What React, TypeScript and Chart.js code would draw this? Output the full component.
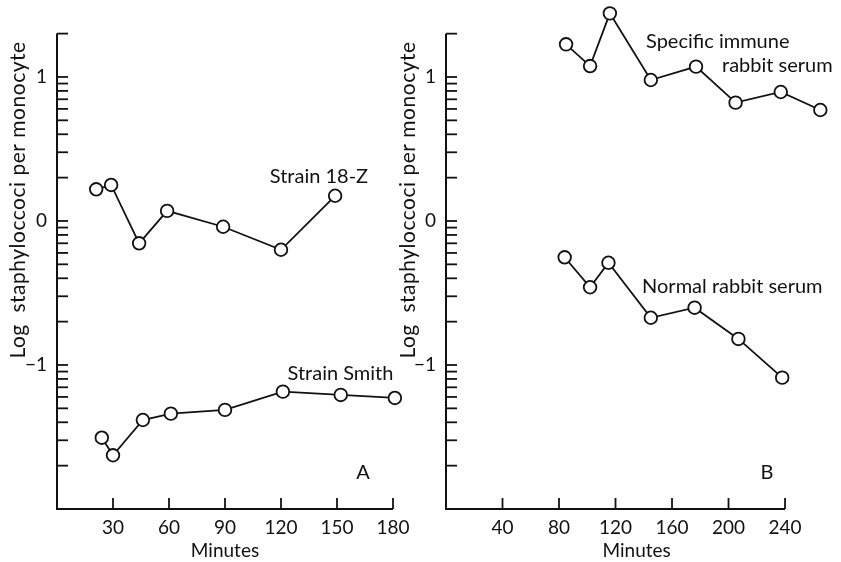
import React, { useEffect, useRef } from "react";
import { Chart, registerables } from "chart.js";

Chart.register(...registerables);

// ---- data ----
const strain18ZMinutes = [21, 29, 44, 59, 89, 120, 149];
const strain18ZLog = [0.22, 0.25, -0.155, 0.07, -0.04, -0.2, 0.175];

const strainSmithMinutes = [24, 30, 46, 61, 90, 121, 152, 181];
const strainSmithLog = [-1.505, -1.627, -1.382, -1.338, -1.312, -1.185, -1.208, -1.229];

const immuneMinutes = [85, 102, 116, 145, 177, 205, 237, 265];
const immuneLog = [1.227, 1.076, 1.442, 0.979, 1.072, 0.822, 0.896, 0.771];

const normalMinutes = [84, 102, 115, 145, 176, 207, 238];
const normalLog = [-0.252, -0.46, -0.29, -0.672, -0.602, -0.819, -1.088];

const panelAXTicks = [30, 60, 90, 120, 150, 180];
const panelBXTicks = [40, 80, 120, 160, 200, 240];
const yMajorTicks = [-1, 0, 1];
const yMajorLabels = ["\u22121", "0", "1"];

const Y_MIN = -2;
const Y_MAX = Math.log10(20);

const FONT = "Lato, 'Open Sans', sans-serif";
const INK = "#111111";

function logDecadeTicks(): number[] {
  const out: number[] = [];
  for (let d = -2; d <= 1; d++) {
    for (let k = 1; k <= 9; k++) {
      const v = d + Math.log10(k);
      if (v > Y_MIN + 1e-6 && v <= Y_MAX + 1e-6) out.push(v);
    }
  }
  return out;
}

type Note = { text: string; x: number; y: number; align: CanvasTextAlign };

type Panel = {
  canvasLeft: number;
  width: number;
  yAxisWidth: number;
  padTop: number;
  padRight: number;
  xMax: number;
  yMax: number;
  xTicks: number[];
  titleX: number;
  series: { x: number[]; y: number[] }[];
  notes: Note[];
};

const decorPlugin = {
  id: "panelDecor",
  beforeDatasetsDraw(chart: any) {
    const { ctx, chartArea } = chart;
    const xs = chart.scales.x;
    const ys = chart.scales.y;
    const bottom = chartArea.bottom;
    const left = chartArea.left;
    const top = ys.getPixelForValue(Y_MAX);
    const lastTick = xs.ticks[xs.ticks.length - 1].value;
    const right = xs.getPixelForValue(lastTick);
    ctx.save();
    ctx.strokeStyle = INK;
    ctx.lineWidth = 2;
    ctx.lineCap = "butt";
    ctx.beginPath();
    ctx.moveTo(left, top);
    ctx.lineTo(left, bottom);
    ctx.lineTo(right, bottom);
    ctx.stroke();
    ctx.lineWidth = 1.8;
    for (const t of ys.ticks) {
      const py = ys.getPixelForValue(t.value);
      ctx.beginPath();
      ctx.moveTo(left, py);
      ctx.lineTo(left + 11, py);
      ctx.stroke();
    }
    for (const t of xs.ticks) {
      const px = xs.getPixelForValue(t.value);
      ctx.beginPath();
      ctx.moveTo(px, bottom);
      ctx.lineTo(px, bottom - 11);
      ctx.stroke();
    }
    ctx.restore();
  },
  afterDraw(chart: any, _args: any, opts: any) {
    const { ctx } = chart;
    const xs = chart.scales.x;
    const ys = chart.scales.y;
    ctx.save();
    ctx.fillStyle = INK;
    ctx.font = `20px ${FONT}`;
    ctx.textBaseline = "middle";
    for (const n of opts.notes as Note[]) {
      ctx.textAlign = n.align;
      ctx.fillText(n.text, xs.getPixelForValue(n.x), ys.getPixelForValue(n.y));
    }
    // rotated axis title
    ctx.translate(opts.titleX, 200);
    ctx.rotate(-Math.PI / 2);
    ctx.textAlign = "center";
    ctx.font = `21px ${FONT}`;
    try {
      (ctx as any).letterSpacing = "0.5px";
    } catch (e) {}
    ctx.fillText("Log  staphyloccoci per monocyte", 0, 0);
    ctx.restore();
  },
};

function buildConfig(p: Panel): any {
  const yTicks = logDecadeTicks();
  return {
    type: "line",
    data: {
      datasets: p.series.map((s) => ({
        data: s.x.map((x, i) => ({ x, y: s.y[i] })),
        borderColor: INK,
        borderWidth: 1.8,
        pointRadius: 6.3,
        pointBackgroundColor: "#ffffff",
        pointBorderColor: INK,
        pointBorderWidth: 1.8,
        tension: 0,
        fill: false,
        clip: false,
      })),
    },
    options: {
      animation: false,
      responsive: false,
      maintainAspectRatio: false,
      layout: { padding: { top: p.padTop, right: p.padRight, bottom: 0, left: 0 } },
      plugins: {
        legend: { display: false },
        tooltip: { enabled: false },
        panelDecor: { notes: p.notes, titleX: p.titleX },
      },
      scales: {
        x: {
          type: "linear",
          min: 0,
          max: p.xMax,
          grid: { display: false, drawTicks: false },
          border: { display: false },
          afterBuildTicks: (s: any) => {
            s.ticks = p.xTicks.map((v) => ({ value: v }));
          },
          afterFit: (s: any) => {
            s.height = 53;
          },
          ticks: {
            autoSkip: false,
            maxRotation: 0,
            padding: 7,
            color: INK,
            font: { family: FONT, size: 19 },
            callback: (v: any) => String(v),
          },
          title: {
            display: true,
            text: "Minutes",
            color: INK,
            font: { family: FONT, size: 19 },
            padding: { top: 0, bottom: 0 },
          },
        },
        y: {
          type: "linear",
          min: Y_MIN,
          max: p.yMax,
          grid: { display: false, drawTicks: false },
          border: { display: false },
          afterBuildTicks: (s: any) => {
            s.ticks = yTicks.map((v) => ({ value: v }));
          },
          afterFit: (s: any) => {
            s.width = p.yAxisWidth;
            s.paddingTop = 0;
            s.paddingBottom = 0;
          },
          ticks: {
            autoSkip: false,
            padding: 10,
            color: INK,
            font: { family: FONT, size: 19 },
            callback: (v: any) => {
              const i = yMajorTicks.findIndex((m) => Math.abs(m - v) < 1e-6);
              return i >= 0 ? yMajorLabels[i] : "";
            },
          },
        },
      },
    },
    plugins: [decorPlugin],
  };
}

const panelA: Panel = {
  canvasLeft: 0,
  width: 420,
  yAxisWidth: 57,
  padTop: 33.6,
  padRight: 27,
  xMax: 180,
  yMax: Y_MAX,
  xTicks: panelAXTicks,
  titleX: 18,
  series: [
    { x: strain18ZMinutes, y: strain18ZLog },
    { x: strainSmithMinutes, y: strainSmithLog },
  ],
  notes: [
    { text: "Strain 18-Z", x: 114, y: 0.31, align: "left" },
    { text: "Strain Smith", x: 123.5, y: -1.062, align: "left" },
    { text: "A", x: 164, y: -1.75, align: "center" },
  ],
};

const panelB: Panel = {
  canvasLeft: 395,
  width: 446,
  yAxisWidth: 51,
  padTop: 12.2,
  padRight: 13.6,
  xMax: 270,
  yMax: 1.45,
  xTicks: panelBXTicks,
  titleX: 13,
  series: [
    { x: immuneMinutes, y: immuneLog },
    { x: normalMinutes, y: normalLog },
  ],
  notes: [
    { text: "Specific immune", x: 141.6, y: 1.245, align: "left" },
    { text: "rabbit serum", x: 195.4, y: 1.083, align: "left" },
    { text: "Normal rabbit serum", x: 138.8, y: -0.456, align: "left" },
    { text: "B", x: 227.3, y: -1.75, align: "center" },
  ],
};

function PanelChart({ panel }: { panel: Panel }) {
  const ref = useRef<HTMLCanvasElement | null>(null);
  useEffect(() => {
    if (!ref.current) return;
    const chart = new Chart(ref.current, buildConfig(panel));
    return () => chart.destroy();
  }, [panel]);
  return (
    <canvas
      ref={ref}
      width={panel.width}
      height={562}
      style={{
        position: "absolute",
        left: panel.canvasLeft,
        top: 0,
        width: panel.width,
        height: 562,
      }}
    />
  );
}

export default function App() {
  return (
    <div style={{ position: "absolute", left: 0, top: 0, width: 841, height: 562, background: "#fff" }}>
      <PanelChart panel={panelA} />
      <PanelChart panel={panelB} />
    </div>
  );
}
